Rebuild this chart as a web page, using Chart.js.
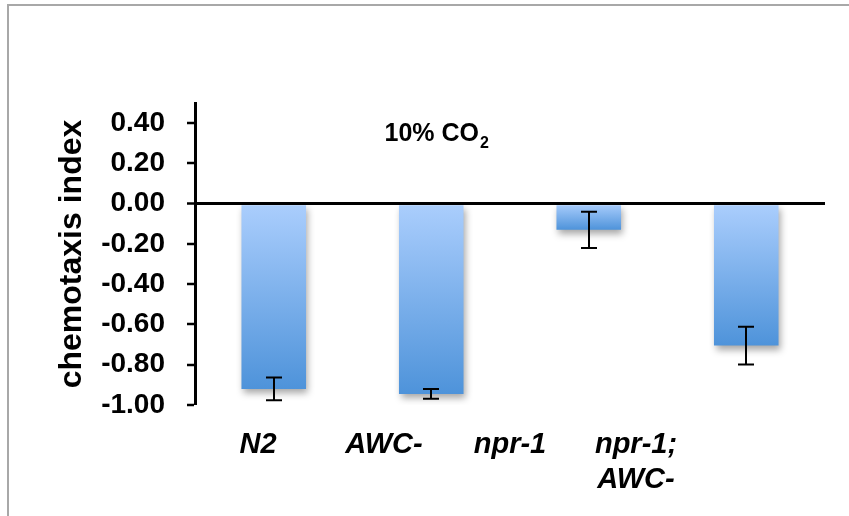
<!DOCTYPE html>
<html>
<head>
<meta charset="utf-8">
<script src="https://cdn.jsdelivr.net/npm/chart.js@4.4.1/dist/chart.umd.min.js"></script>
<style>
  html, body { margin: 0; padding: 0; background: #fff; }
  #wrap { position: relative; width: 849px; height: 516px; overflow: hidden; }
  #frame { position: absolute; left: 7px; top: 4px; width: 900px; height: 600px;
           border-left: 2px solid #a8a8a8; border-top: 2px solid #a8a8a8; }
  canvas { position: absolute; left: 0; top: 0; }
</style>
</head>
<body>
<div id="wrap">
  <div id="frame"></div>
  <canvas id="c" width="849" height="516"></canvas>
</div>
<script>
// Strains tested and their mean chemotaxis index (+/- error) in 10% CO2
const strains = ['N2', 'AWC-', 'npr-1', ['npr-1;', 'AWC-']];
const chemotaxisIndex = [-0.92, -0.945, -0.13, -0.705];
const errors = [0.057, 0.024, 0.09, 0.094];
const yTicks = { min: -1.0, max: 0.5, step: 0.2 };
const condition = { text: '10% CO', sub: '2' };

// the strain names sit on their own evenly spaced row (one spare slot at the end)
const labelRow = strains.concat(['']);

const SANS = '"Liberation Sans", Arial, Helvetica, sans-serif';

function barGradient(ctx) {
  const chart = ctx.chart;
  if (!chart.chartArea || ctx.dataIndex === undefined) return '#7fb0ea';
  const y = chart.scales.y;
  const top = y.getPixelForValue(0);
  const bottom = y.getPixelForValue(chemotaxisIndex[ctx.dataIndex]);
  const g = chart.ctx.createLinearGradient(0, top, 0, bottom);
  g.addColorStop(0, '#abcefd');
  g.addColorStop(1, '#4e93da');
  return g;
}

// soft drop shadow under the bars
const barShadow = {
  id: 'barShadow',
  beforeDatasetsDraw(chart) {
    const c = chart.ctx;
    c.save();
    c.shadowColor = 'rgba(0,0,0,0.35)';
    c.shadowBlur = 7;
    c.shadowOffsetX = 2;
    c.shadowOffsetY = 4;
  },
  afterDatasetsDraw(chart) {
    chart.ctx.restore();
  }
};

// error bars with caps
const errorBars = {
  id: 'errorBars',
  afterDatasetsDraw(chart) {
    const c = chart.ctx;
    const meta = chart.getDatasetMeta(0);
    const y = chart.scales.y;
    c.save();
    c.strokeStyle = '#000';
    c.lineWidth = 2;
    meta.data.forEach((bar, i) => {
      const x = Math.round(bar.x);
      const yHi = y.getPixelForValue(chemotaxisIndex[i] + errors[i]);
      const yLo = y.getPixelForValue(chemotaxisIndex[i] - errors[i]);
      const cap = 8;
      c.beginPath();
      c.moveTo(x, yHi); c.lineTo(x, yLo);
      c.moveTo(x - cap, yHi); c.lineTo(x + cap, yHi);
      c.moveTo(x - cap, yLo); c.lineTo(x + cap, yLo);
      c.stroke();
    });
    c.restore();
  }
};

// "10% CO2" condition label inside the plot
const conditionLabel = {
  id: 'conditionLabel',
  afterDraw(chart) {
    const c = chart.ctx;
    const x = chart.scales.x.getPixelForValue(1) + 5;
    const y = chart.scales.y.getPixelForValue(0.345);
    c.save();
    c.fillStyle = '#000';
    c.textBaseline = 'middle';
    c.font = 'bold 25px ' + SANS;
    const w1 = c.measureText(condition.text).width;
    c.font = 'bold 16px ' + SANS;
    const w2 = c.measureText(condition.sub).width;
    const start = x - (w1 + w2) / 2;
    c.font = 'bold 25px ' + SANS;
    c.textAlign = 'left';
    c.fillText(condition.text, start, y);
    c.font = 'bold 16px ' + SANS;
    c.fillText(condition.sub, start + w1 + 1, y + 9);
    c.restore();
  }
};

new Chart(document.getElementById('c'), {
  type: 'bar',
  data: {
    labels: strains,
    datasets: [{
      data: chemotaxisIndex,
      backgroundColor: barGradient,
      borderWidth: 0,
      barPercentage: 0.41,
      categoryPercentage: 1.0
    }]
  },
  options: {
    responsive: false,
    animation: false,
    devicePixelRatio: 1,
    layout: { padding: { top: 103, right: 24, bottom: 0, left: 0 } },
    plugins: { legend: { display: false }, tooltip: { enabled: false } },
    scales: {
      x: {
        display: false
      },
      names: {
        type: 'category',
        labels: labelRow,
        position: 'bottom',
        afterFit(scale) { scale.height = 111; },
        grid: { display: false, drawTicks: false },
        border: { display: false },
        ticks: {
          color: '#000',
          padding: 23,
          maxRotation: 0,
          autoSkip: false,
          font: { family: SANS, size: 29, weight: 'bold', style: 'italic', lineHeight: 1.2 }
        }
      },
      y: {
        min: yTicks.min,
        max: yTicks.max,
        z: 1,
        afterFit(scale) { scale.width = 195; },
        border: { display: true, color: '#000', width: 3 },
        grid: {
          color: (ctx) => (ctx.tick && Math.abs(ctx.tick.value) < 1e-9) ? '#000' : 'rgba(0,0,0,0)',
          lineWidth: (ctx) => (ctx.tick && Math.abs(ctx.tick.value) < 1e-9) ? 3 : 0,
          tickColor: '#000',
          tickLength: 8,
          tickWidth: 2.5
        },
        ticks: {
          stepSize: yTicks.step,
          includeBounds: false,
          color: '#000',
          padding: 22,
          font: { family: SANS, size: 28, weight: 'bold' },
          callback: (v) => (Math.abs(v) < 1e-9 ? 0 : v).toFixed(2)
        },
        title: {
          display: true,
          text: 'chemotaxis index',
          color: '#000',
          padding: { top: 53, bottom: 0 },
          font: { family: SANS, size: 32, weight: 'bold' }
        }
      }
    }
  },
  plugins: [barShadow, errorBars, conditionLabel]
});
</script>
</body>
</html>
